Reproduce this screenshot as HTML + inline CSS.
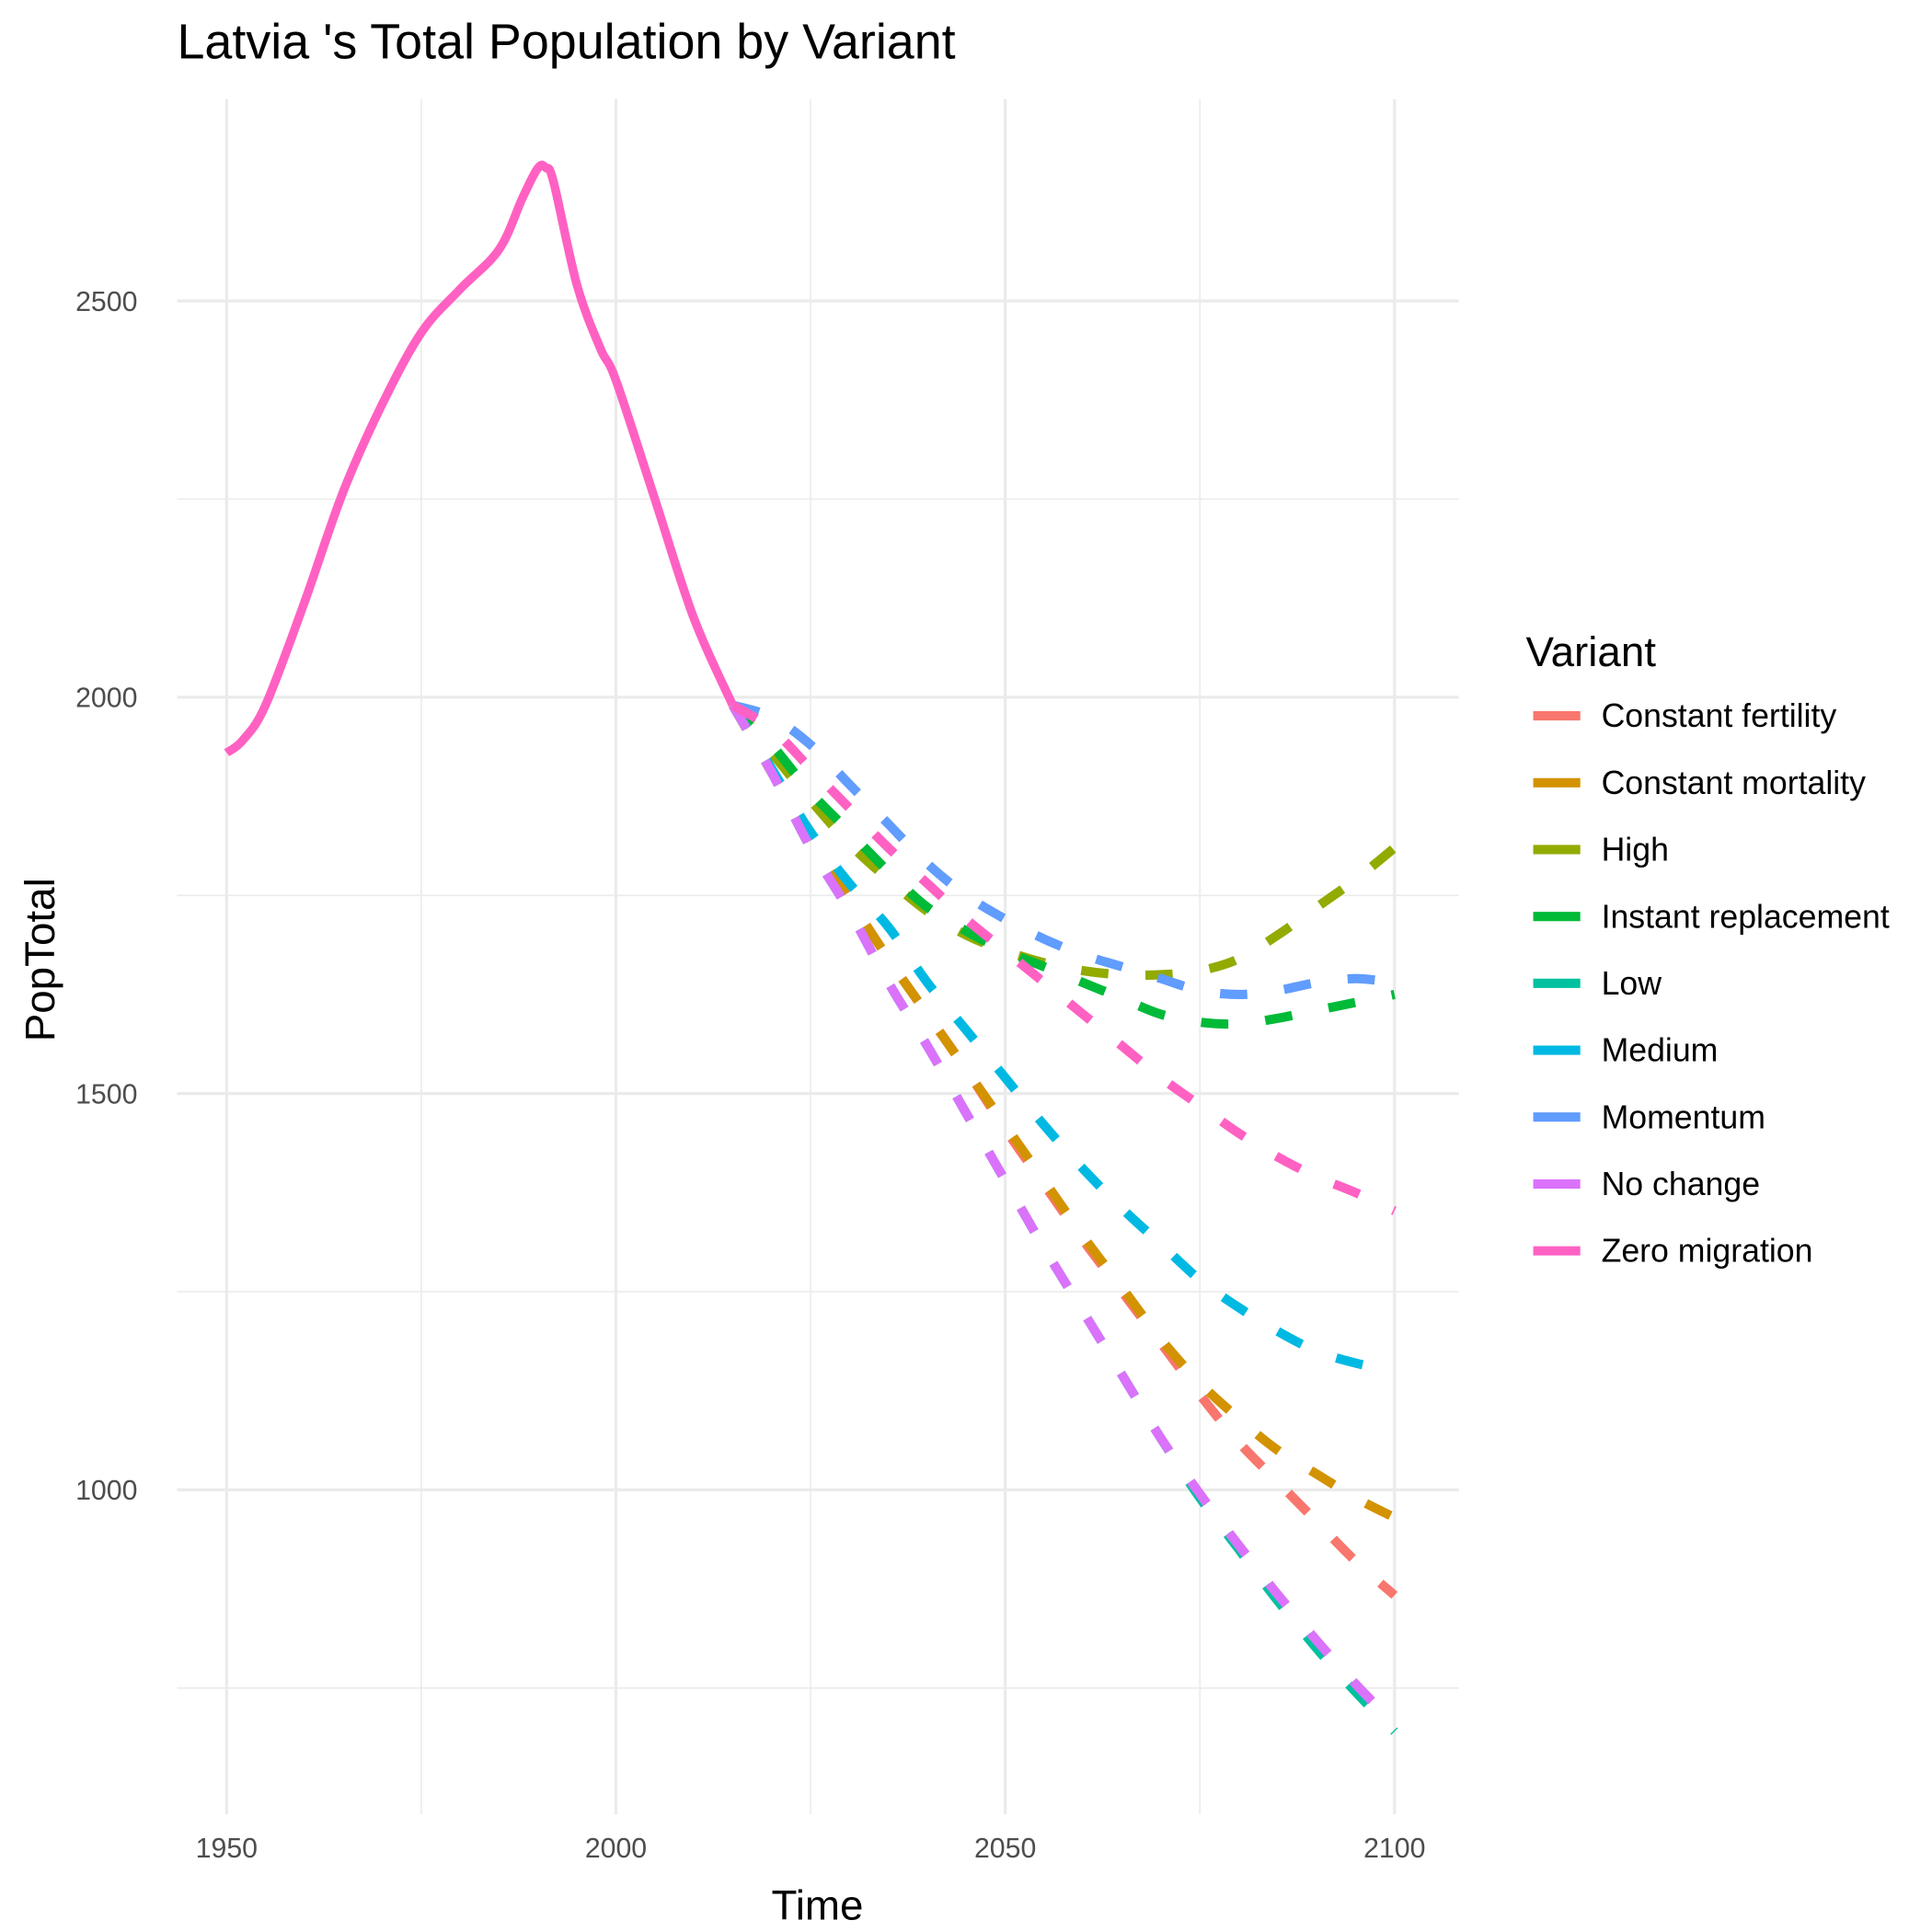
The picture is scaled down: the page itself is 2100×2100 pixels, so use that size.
<!DOCTYPE html>
<html><head><meta charset="utf-8"><style>
html,body{margin:0;padding:0;background:#fff}
svg{display:block}
text{font-family:"Liberation Sans",Arial,sans-serif}
</style></head><body>
<svg id="chart" width="2100" height="2100" viewBox="0 0 1560 1560" xmlns="http://www.w3.org/2000/svg">
<g id="grid"></g>
<g id="series"></g>
<g id="axes"></g>
<text x="143" y="47" font-size="40" fill="#000">Latvia 's Total Population by Variant</text>
<text x="660" y="1550" font-size="34" text-anchor="middle" fill="#000">Time</text>
<text transform="translate(44,775) rotate(-90)" font-size="34" text-anchor="middle" fill="#000">PopTotal</text>
<g id="legend"></g>
</svg>
<script>
const histYears=[1950,1952,1955,1960,1965,1970,1975,1980,1985,1988,1990,1991,1992,1995,1998,2000,2005,2010,2015];
const histValues=[1930,1945,1990,2120,2260,2370,2460,2515,2565,2630,2668,2668,2650,2520,2440,2400,2250,2100,1990];
const projYears=[2015,2020,2025,2030,2035,2040,2045,2050,2055,2060,2065,2070,2075,2080,2085,2090,2095,2100];
const variants=["Constant fertility","Constant mortality","High","Instant replacement","Low","Medium","Momentum","No change","Zero migration"];
const colors=["#F8766D","#D39200","#93AA00","#00BA38","#00C19F","#00B9E3","#619CFF","#DB72FB","#FF61C3"];
const vConstFert=[1990,1905,1820,1745,1670,1600,1530,1455,1385,1315,1250,1185,1120,1060,1010,960,910,867];
const vConstMort=[1990,1905,1820,1745,1670,1600,1530,1460,1390,1320,1255,1190,1135,1090,1050,1020,990,965];
const vHigh=[1990,1930,1870,1815,1770,1730,1700,1680,1665,1655,1650,1650,1655,1670,1700,1735,1770,1810];
const vInstant=[1990,1940,1880,1830,1780,1735,1705,1680,1660,1640,1620,1600,1590,1588,1595,1605,1615,1625];
const vLow=[1990,1905,1810,1730,1640,1560,1475,1390,1305,1225,1145,1065,990,925,860,800,745,695];
const vMedium=[1990,1910,1830,1765,1710,1640,1580,1520,1460,1405,1355,1310,1265,1230,1200,1175,1160,1150];
const vMomentum=[1990,1975,1940,1890,1840,1790,1750,1720,1695,1675,1660,1645,1630,1625,1630,1640,1645,1640];
const vNoChange=[1990,1905,1810,1730,1640,1560,1475,1390,1305,1225,1145,1065,995,930,868,810,755,705];
const vZero=[1990,1960,1910,1860,1810,1765,1720,1680,1640,1600,1560,1520,1485,1450,1420,1395,1375,1352];
const seriesValues=[vConstFert,vConstMort,vHigh,vInstant,vLow,vMedium,vMomentum,vNoChange,vZero];
const xTicks=[1950,2000,2050,2100];
const yTicks=[1000,1500,2000,2500];
const xMinor=[1975,2025,2075];
const yMinor=[750,1250,1750,2250];

const NS="http://www.w3.org/2000/svg";
const X=v=>183+(v-1950)*(1126-183)/150;
const Y=v=>563-(v-2000)*0.64;
const PL=143,PR=1178,PT=80,PB=1465;
function mk(tag,attrs,parent){const e=document.createElementNS(NS,tag);for(const k in attrs)e.setAttribute(k,attrs[k]);parent.appendChild(e);return e;}
function smooth(pts){
 let d='M'+pts[0][0].toFixed(1)+','+pts[0][1].toFixed(1);
 for(let i=0;i<pts.length-1;i++){
  const p0=pts[Math.max(0,i-1)],p1=pts[i],p2=pts[i+1],p3=pts[Math.min(pts.length-1,i+2)];
  const c1=[p1[0]+(p2[0]-p0[0])/6,p1[1]+(p2[1]-p0[1])/6];
  const c2=[p2[0]-(p3[0]-p1[0])/6,p2[1]-(p3[1]-p1[1])/6];
  d+=' C'+c1[0].toFixed(1)+','+c1[1].toFixed(1)+' '+c2[0].toFixed(1)+','+c2[1].toFixed(1)+' '+p2[0].toFixed(1)+','+p2[1].toFixed(1);
 }
 return d;
}
const grid=document.getElementById('grid'),axes=document.getElementById('axes'),ser=document.getElementById('series'),leg=document.getElementById('legend');
xMinor.forEach(v=>{const l=mk('line',{x1:X(v),x2:X(v),y1:PT,y2:PB,stroke:'#ebebeb','stroke-width':1.2},grid);

});
yMinor.forEach(v=>{const l=mk('line',{x1:PL,x2:PR,y1:Y(v),y2:Y(v),stroke:'#ebebeb','stroke-width':1.2},grid);

});
xTicks.forEach(v=>{const l=mk('line',{x1:X(v),x2:X(v),y1:PT,y2:PB,stroke:'#ebebeb','stroke-width':2.4},grid);


const t=mk('text',{x:X(v),y:1500,'font-size':22.5,fill:'#4d4d4d','text-anchor':'middle'},axes);t.textContent=v;

});
yTicks.forEach(v=>{const l=mk('line',{x1:PL,x2:PR,y1:Y(v),y2:Y(v),stroke:'#ebebeb','stroke-width':2.4},grid);


const t=mk('text',{x:111,y:Y(v)+8,'font-size':22.5,fill:'#4d4d4d','text-anchor':'end'},axes);t.textContent=v;

});
seriesValues.forEach((vals,i)=>{
 const d=smooth(vals.map((v,j)=>[X(projYears[j]),Y(v)]));
 const p=mk('path',{d:d,fill:'none',stroke:colors[i],'stroke-width':7.5,'stroke-dasharray':'22 30','stroke-linejoin':'round'},ser);
 
 
});
const hd=smooth(histValues.map((v,j)=>[X(histYears[j]),Y(v)]));
const hp=mk('path',{d:hd,fill:'none',stroke:'#FF61C3','stroke-width':7,'stroke-linejoin':'round'},ser);


const lt=mk('text',{x:1232,y:538,'font-size':34,fill:'#000'},leg);lt.textContent='Variant';


variants.forEach((n,i)=>{const y=578+54*i;
 const g=mk('g',{},leg);
 
 
 mk('line',{x1:1238,x2:1276,y1:y,y2:y,stroke:colors[i],'stroke-width':7.5},g);
 const t=mk('text',{x:1293,y:y+9,'font-size':26.5,fill:'#000'},g);t.textContent=n;});
</script>
</body></html>
